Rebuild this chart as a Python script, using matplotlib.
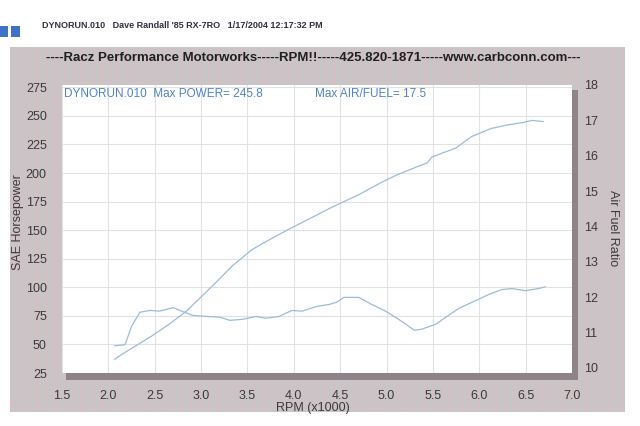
import matplotlib
matplotlib.use("Agg")
import matplotlib.pyplot as plt
import numpy as np
from matplotlib.patches import Rectangle

plt.rcParams['font.family'] = ['Liberation Sans', 'DejaVu Sans']

# ---- data ----
hp_rpm = [2.07, 2.12, 2.30, 2.48, 2.66, 2.84, 2.98, 3.17, 3.34, 3.55, 3.70, 3.95,
          4.17, 4.41, 4.70, 4.95, 5.13, 5.44, 5.49, 5.75, 5.92, 6.13, 6.30, 6.46, 6.57, 6.69]
hp_val = [37, 40, 49, 58, 68, 79, 90, 105, 119, 133, 140, 151,
          160, 170, 181, 192, 199, 209, 214, 222, 232, 239, 242, 244, 246, 245]

afr_rpm = [2.07, 2.18, 2.25, 2.34, 2.45, 2.55, 2.70, 2.79, 2.91, 3.06, 3.20, 3.31,
           3.45, 3.59, 3.70, 3.84, 3.98, 4.09, 4.24, 4.38, 4.46, 4.54, 4.70, 4.84,
           4.99, 5.13, 5.30, 5.38, 5.53, 5.64, 5.78, 5.92, 6.10, 6.24, 6.35, 6.50,
           6.64, 6.71]
afr_val = [10.62, 10.65, 11.17, 11.57, 11.62, 11.60, 11.70, 11.60, 11.48, 11.45, 11.43, 11.34,
           11.37, 11.45, 11.40, 11.45, 11.62, 11.60, 11.73, 11.79, 11.85, 11.99, 11.99, 11.79,
           11.60, 11.37, 11.06, 11.09, 11.23, 11.43, 11.68, 11.85, 12.07, 12.21, 12.24, 12.18,
           12.24, 12.29]

x_ticks = [1.5, 2.0, 2.5, 3.0, 3.5, 4.0, 4.5, 5.0, 5.5, 6.0, 6.5, 7.0]
hp_ticks = [25, 50, 75, 100, 125, 150, 175, 200, 225, 250, 275]
afr_ticks = [10, 11, 12, 13, 14, 15, 16, 17, 18]

header = "DYNORUN.010   Dave Randall '85 RX-7RO   1/17/2004 12:17:32 PM"
title = "----Racz Performance Motorworks-----RPM!!-----425.820-1871-----www.carbconn.com---"
note1 = "DYNORUN.010  Max POWER= 245.8"
note2 = "Max AIR/FUEL= 17.5"

W, H = 640, 426
fig = plt.figure(figsize=(6.4, 4.26), dpi=100)
fig.patch.set_facecolor('white')

def fx(x):
    return x / W

def fy(y):
    return 1 - y / H

# striped gray panel
bg = fig.add_axes([fx(10), fy(412), fx(615), (412 - 47) / H], zorder=0)
cols = np.arange(615)
pattern = np.where((cols % 9) < 2, 0.7, 0.0) + np.where((cols % 23) < 3, 0.4, 0.0)
pattern = np.clip(pattern, 0, 1)
base = np.array([0.79, 0.77, 0.78])
pink = np.array([0.84, 0.75, 0.77])
img = base[None, None, :] * (1 - pattern[None, :, None]) + pink[None, None, :] * pattern[None, :, None]
img = np.repeat(img, 2, axis=0)
bg.imshow(img, aspect='auto', interpolation='nearest')
bg.axis('off')

# shadows
fig.patches.append(Rectangle((fx(66), fy(380)), fx(512), 7 / H, transform=fig.transFigure,
                             facecolor='#8d8388', edgecolor='none', zorder=1))
fig.patches.append(Rectangle((fx(572), fy(380)), fx(6), (380 - 90) / H, transform=fig.transFigure,
                             facecolor='#8d8388', edgecolor='none', zorder=1))

ax = fig.add_axes([fx(62), fy(373), fx(510), (373 - 85) / H], zorder=2)
ax.set_facecolor('white')
ax.plot(hp_rpm, hp_val, color='#98bddb', lw=0.9)
ax.set_xlim(1.5, 7.0)
ax.set_ylim(25, 277)
ax.set_xticks(x_ticks)
ax.set_xticklabels([f"{t:.1f}" for t in x_ticks])
ax.set_yticks(hp_ticks)
ax.grid(True, color='#e2e2e6', lw=0.8)
for s in ax.spines.values():
    s.set_visible(False)
ax.tick_params(axis='both', length=0, labelsize=9, colors='#3a3a3a')
ax.tick_params(axis='x', pad=12)
ax.tick_params(axis='y', pad=11)

ax2 = ax.twinx()
ax2.plot(afr_rpm, afr_val, color='#98bddb', lw=0.9)
ax2.set_ylim(9.85, 18.0)
ax2.set_yticks(afr_ticks)
for s in ax2.spines.values():
    s.set_visible(False)
ax2.tick_params(axis='y', length=0, labelsize=9, colors='#3a3a3a', pad=9)

ax.text(0.003, 0.97, note1, transform=ax.transAxes, color='#4f82c6', fontsize=8.5,
        va='center', ha='left')
ax.text(0.497, 0.97, note2, transform=ax.transAxes, color='#4f82c6', fontsize=8.5,
        va='center', ha='left')

fig.text(fx(18), fy(222), "SAE Horsepower", rotation=90, ha='center', va='center',
         fontsize=9, color='#3a3a3a')
fig.text(fx(613), fy(228), "Air Fuel Ratio", rotation=270, ha='center', va='center',
         fontsize=9, color='#3a3a3a')
fig.text(fx(313), fy(408), "RPM (x1000)", ha='center', va='center', fontsize=9, color='#3a3a3a')

fig.text(fx(313), fy(58), title, ha='center', va='center', fontsize=9.5,
         fontweight='bold', color='#202020')
fig.text(fx(42), fy(26), header, ha='left', va='center', fontsize=6.5,
         fontweight='bold', color='#303040')

fig.patches.append(Rectangle((0, fy(37)), fx(8), 11 / H, transform=fig.transFigure,
                             facecolor='#3d72c4', edgecolor='none'))
fig.patches.append(Rectangle((fx(11), fy(37)), fx(9), 11 / H, transform=fig.transFigure,
                             facecolor='#3d72c4', edgecolor='none'))

fig.savefig('out.png', dpi=100)
